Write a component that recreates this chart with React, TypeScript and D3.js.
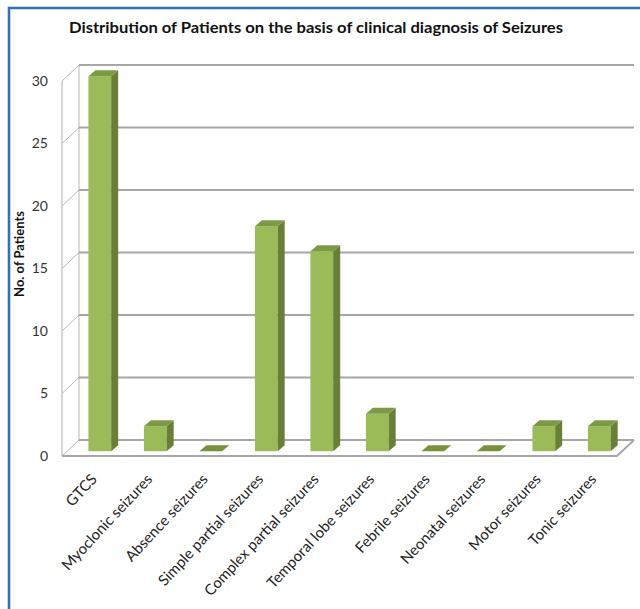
import React from "react";
import * as d3 from "d3";

const categories = [
  "GTCS",
  "Myoclonic seizures",
  "Absence seizures",
  "Simple partial seizures",
  "Complex partial seizures",
  "Temporal lobe seizures",
  "Febrile seizures",
  "Neonatal seizures",
  "Motor seizures",
  "Tonic seizures",
];
const patients = [30, 2, 0, 18, 16, 3, 0, 0, 2, 2];
const yTicks = [0, 5, 10, 15, 20, 25, 30];
const title = "Distribution of Patients on the basis of clinical diagnosis of Seizures";
const yTitle = "No. of Patients";

const W = 640;
const H = 609;
const FONT = "Lato, 'Open Sans', sans-serif";

export default function App() {
  const x = d3.scaleBand<string>().domain(categories).range([62, 617]).padding(0);
  const y = d3.scaleLinear().domain([0, 30]).range([456, 81]);
  const DX = 17; // depth offset
  const DY = -16;
  const bw = x.bandwidth();
  const faceOff = bw * 0.384;
  const faceW = bw * 0.41;
  const f1 = 0.3; // bar front depth fraction
  const bdx = 7;
  const bdy = -6;

  const x0 = x.range()[0];
  const x1 = x.range()[1];

  return (
    <svg
      width={W}
      height={H}
      style={{ position: "absolute", left: 0, top: 0, background: "#fff" }}
      fontFamily={FONT}
    >
      <rect x={0} y={0} width={W} height={H} fill="#fff" />
      {/* border */}
      <path d={`M9,${H} V8 H${W}`} fill="none" stroke="#2f72b8" strokeWidth={2.6} />

      {/* title */}
      <text
        x={316}
        y={33}
        textAnchor="middle"
        fontSize={15}
        fontWeight="bold"
        fill="#111"
        textLength={494}
        lengthAdjust="spacingAndGlyphs"
      >
        {title}
      </text>

      {/* left wall diagonals */}
      {yTicks.map((t) => (
        <line
          key={"lw" + t}
          x1={x0}
          y1={y(t)}
          x2={x0 + DX}
          y2={y(t) + DY}
          stroke="#b8b8b8"
          strokeWidth={1}
        />
      ))}
      {/* back wall left edge */}
      <line x1={x0 + DX} y1={y(30) + DY} x2={x0 + DX} y2={y(0) + DY} stroke="#b8b8b8" strokeWidth={1} />
      {/* back wall gridlines */}
      {yTicks.map((t) => (
        <line
          key={"g" + t}
          x1={x0 + DX}
          y1={y(t) + DY}
          x2={x1 + DX}
          y2={y(t) + DY}
          stroke="#a6a6a6"
          strokeWidth={1.8}
        />
      ))}
      {/* front axis line */}
      <line x1={x0} y1={y(30)} x2={x0} y2={y(0)} stroke="#b0b0b0" strokeWidth={1} />
      {/* floor front + right edge */}
      <path
        d={`M${x0},${y(0)} H${x1} L${x1 + DX},${y(0) + DY}`}
        fill="none"
        stroke="#a6a6a6"
        strokeWidth={1.8}
      />

      {/* bars */}
      {categories.map((c, i) => {
        const v = patients[i];
        const fx = (x(c) as number) + faceOff + DX * f1;
        const fb = y(0) + DY * f1;
        const ft = fb - (y(0) - y(v));
        const top = `M${fx},${ft} L${fx + bdx},${ft + bdy} L${fx + faceW + bdx},${ft + bdy} L${fx + faceW},${ft} Z`;
        return (
          <g key={c}>
            {v > 0 && (
              <>
                <rect x={fx} y={ft} width={faceW} height={fb - ft} fill="#9bbb59" />
                <path
                  d={`M${fx + faceW},${ft} L${fx + faceW + bdx},${ft + bdy} L${fx + faceW + bdx},${fb + bdy} L${fx + faceW},${fb} Z`}
                  fill="#687f37"
                />
              </>
            )}
            <path d={top} fill={v > 0 ? "#7b9a43" : "#76923c"} />
          </g>
        );
      })}

      {/* y tick labels */}
      {yTicks.map((t) => (
        <text
          key={"yt" + t}
          x={48}
          y={y(t)}
          dy="0.35em"
          textAnchor="end"
          fontSize={14}
          fill="#333"
        >
          {t}
        </text>
      ))}

      {/* y title */}
      <text
        transform={`translate(24,${254}) rotate(-90)`}
        textAnchor="middle"
        fontSize={13}
        fontWeight="bold"
        fill="#111"
      >
        {yTitle}
      </text>

      {/* x labels */}
      {categories.map((c) => {
        const cx = (x(c) as number) + bw / 2;
        return (
          <text
            key={"xl" + c}
            transform={`translate(${cx + 8},${480}) rotate(-47)`}
            textAnchor="end"
            fontSize={15}
            fill="#222"
          >
            {c}
          </text>
        );
      })}
    </svg>
  );
}
